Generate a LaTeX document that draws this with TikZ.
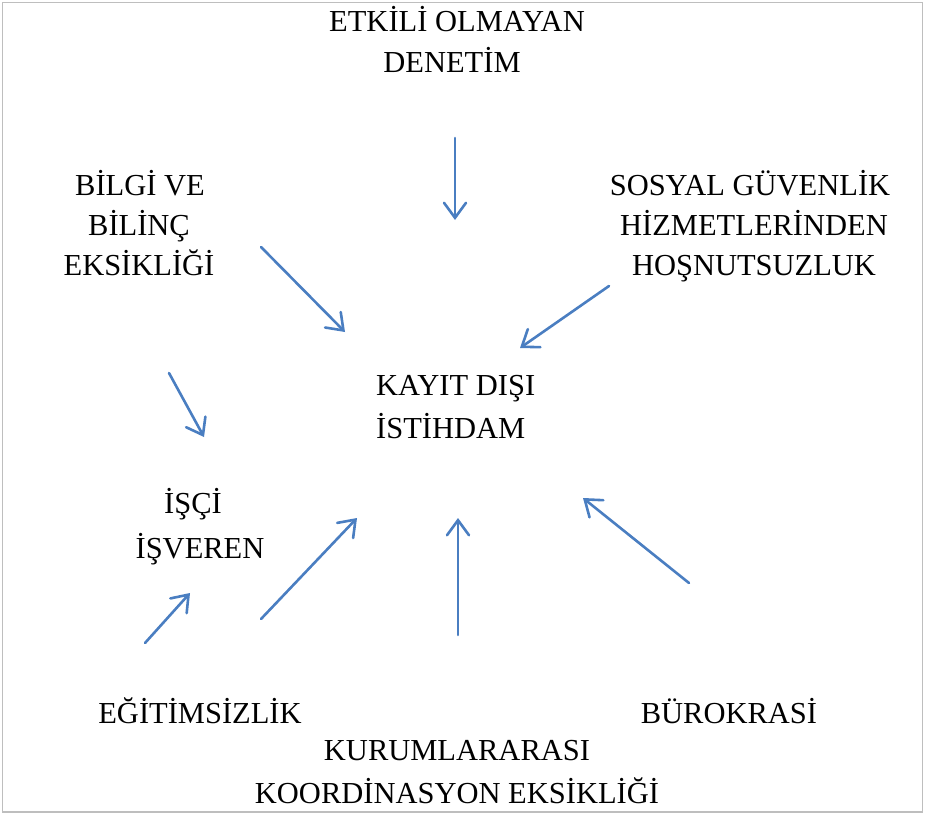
\documentclass[tikz,border=0pt]{standalone}
\usepackage{fontspec}
\setmainfont{Liberation Serif}
\usetikzlibrary{arrows.meta}
\definecolor{arrowblue}{RGB}{74,126,193}
\definecolor{framegray}{RGB}{190,190,190}
\tikzset{
  lbl/.style={inner sep=0pt, anchor=base, font=\fontsize{30.5}{36}\selectfont},
  lblL/.style={inner sep=0pt, anchor=base west, font=\fontsize{30.5}{36}\selectfont},
  arr/.style={draw=arrowblue, line width=2.6pt, line cap=round,
    -{Straight Barb[length=15pt,width=22pt,line cap=round]}},
}
\begin{document}
\begin{tikzpicture}[x=1pt,y=-1pt]
\useasboundingbox (0,0) rectangle (925,816);
\draw[framegray, line width=1.5pt] (2.5,2.5) rectangle (922.5,812);
% texts
\node[lbl] (etkili1) at (457,32) {ETKİLİ OLMAYAN};
\node[lbl] (etkili2) at (452,72) {DENETİM};
\node[lbl] (bilgi1) at (140,195) {BİLGİ VE};
\node[lbl] (bilgi2) at (139,235) {BİLİNÇ};
\node[lbl] (bilgi3) at (139,275) {EKSİKLİĞİ};
\node[lbl] (sosyal1) at (750,195) {SOSYAL GÜVENLİK};
\node[lbl] (sosyal2) at (754,235) {HİZMETLERİNDEN};
\node[lbl] (sosyal3) at (754,275) {HOŞNUTSUZLUK};
\node[lblL] (kayit1) at (376,395) {KAYIT DIŞI};
\node[lblL] (kayit2) at (376,438) {İSTİHDAM};
\node[lbl] (isci1) at (193,513) {İŞÇİ};
\node[lbl] (isci2) at (200,558) {İŞVEREN};
\node[lbl] (egitim) at (200,723) {EĞİTİMSİZLİK};
\node[lbl] (buro) at (729,723) {BÜROKRASİ};
\node[lbl] (kurum1) at (457,760) {KURUMLARARASI};
\node[lbl] (kurum2) at (457,803) {KOORDİNASYON EKSİKLİĞİ};
% arrow end points
\coordinate (a1s) at (455,138); \coordinate (a1e) at (455,220);
\coordinate (a2s) at (261,247); \coordinate (a2e) at (345,332);
\coordinate (a3s) at (609,286); \coordinate (a3e) at (520,348);
\coordinate (a4s) at (169,373); \coordinate (a4e) at (204,437);
\coordinate (a5s) at (145,643); \coordinate (a5e) at (190,593);
\coordinate (a6s) at (261,619); \coordinate (a6e) at (357,518);
\coordinate (a7s) at (458,635); \coordinate (a7e) at (458,518);
\coordinate (a8s) at (689,583); \coordinate (a8e) at (583,498);
\draw[arr] (a1s) -- (a1e);
\draw[arr] (a2s) -- (a2e);
\draw[arr] (a3s) -- (a3e);
\draw[arr] (a4s) -- (a4e);
\draw[arr] (a5s) -- (a5e);
\draw[arr] (a6s) -- (a6e);
\draw[arr] (a7s) -- (a7e);
\draw[arr] (a8s) -- (a8e);
\end{tikzpicture}
\end{document}
